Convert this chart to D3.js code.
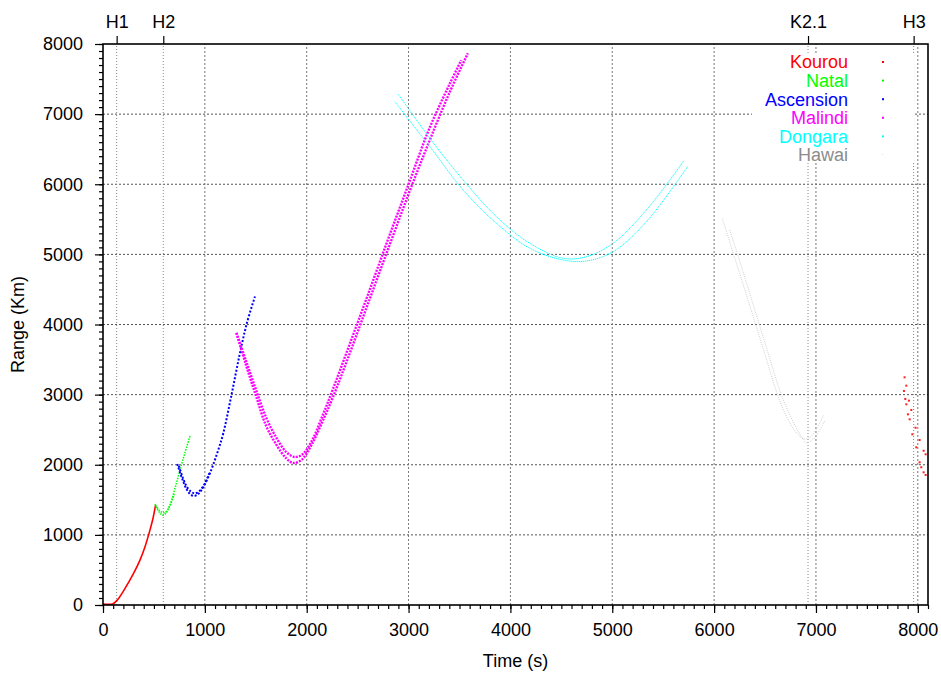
<!DOCTYPE html>
<html>
<head>
<meta charset="utf-8">
<script src="https://cdn.jsdelivr.net/npm/d3@7"></script>
<style>
  body { margin: 0; background: #fff; }
  text { font-family: "Liberation Sans", Arial, sans-serif; }
</style>
</head>
<body>
<div id="chart"></div>
<script>
// [time (s), range (km)]
const kourouRise = [[0,15],[94,15],[140,70],[199,195],[250,320],[300,450],[363,640],[410,820],[461,1068],[490,1230],[516,1423]];
const kourouEndA = [[7870,3247],[7887,3128],[7913,2914],[7936,2781],[7978,2528],[8018,2353],[8057,2200],[8077,2149]];
const kourouEndB = [[7864,3052],[7877,2938],[7887,2862],[7903,2719],[7920,2648],[7946,2434],[7985,2249],[8018,2035],[8034,1964],[8057,1892],[8077,1854]];
const natalA = [[510,1440],[540,1350],[570,1295],[590,1280],[620,1310],[650,1400],[674,1497],[710,1680],[756,1925],[800,2150],[854,2410]];
const natalB = [[516,1423],[550,1355],[580,1322],[605,1318],[635,1355],[665,1440],[700,1580]];
const ascensionA = [[729,2010],[780,1790],[821,1650],[860,1575],[896,1554],[940,1590],[984,1680],[1050,1880],[1120,2160],[1181,2450],[1262,3000],[1340,3560],[1409,4000],[1492,4400]];
const ascensionB = [[745,1985],[790,1790],[830,1670],[870,1610],[905,1592],[950,1630],[995,1720],[1050,1900]];
const malindiA = [[1310,3880],[1400,3440],[1500,2990],[1600,2560],[1700,2290],[1800,2090],[1866,2026],[1950,2070],[2050,2290],[2150,2600],[2258,2965],[2422,3586],[2600,4290],[2800,5080],[3000,5860],[3200,6600],[3400,7300],[3582,7867]];
const malindiB = [[1310,3880],[1400,3500],[1500,3080],[1600,2680],[1700,2390],[1800,2180],[1882,2111],[1960,2150],[2050,2340],[2150,2680],[2258,3080],[2422,3720],[2600,4420],[2800,5220],[3000,6000],[3200,6780],[3400,7420],[3517,7768]];
const dongaraA = [[2898,7287],[3209,6655],[3536,6061],[3863,5537],[4190,5158],[4517,4944],[4746,4967],[5008,5158],[5335,5633],[5702,6332]];
const dongaraB = [[2866,7177],[3209,6536],[3536,5918],[3863,5443],[4190,5087],[4517,4920],[4746,4906],[5008,5038],[5335,5466],[5744,6260]];
const hawaiA = [[6081,5514],[6200,4960],[6300,4500],[6415,3969],[6500,3570],[6611,3050],[6700,2720],[6800,2470],[6880,2370],[6940,2390],[7000,2500],[7076,2709]];
const hawaiB = [[6153,5348],[6250,4910],[6350,4440],[6450,3970],[6550,3500],[6650,3040],[6750,2690],[6850,2420],[6906,2314],[6970,2360],[7030,2480],[7086,2628]];

const stations = ["Kourou", "Natal", "Ascension", "Malindi", "Dongara", "Hawai"];
const stationColors = ["#ff0000", "#00ff00", "#0000ff", "#ff00ff", "#00ffff", "#8c8c8c"];

const xTicks = [0, 1000, 2000, 3000, 4000, 5000, 6000, 7000, 8000];
const yTicks = [0, 1000, 2000, 3000, 4000, 5000, 6000, 7000, 8000];
const eventLabels = ["H1", "H2", "K2.1", "H3"];
const eventTimes = [134, 592, 6922, 7959];

// how each trace is drawn
const traces = [
  { data: kourouRise, color: "#ff0000", width: 1.6, dash: null },
  { data: natalA, color: "#00ff00", width: 1.5, dash: "1.5,1.2" },
  { data: natalB, color: "#00ff00", width: 1.5, dash: "1.5,1.2" },
  { data: ascensionA, color: "#0000ff", width: 2, dash: "2,1.8" },
  { data: ascensionB, color: "#0000ff", width: 2, dash: "2,1.8" },
  { data: malindiA, color: "#ff00ff", width: 2.4, dash: "2,1.2" },
  { data: malindiB, color: "#ff00ff", width: 2.4, dash: "2,1.2" },
  { data: dongaraA, color: "#00ffff", width: 1, dash: "1.2,0.8" },
  { data: dongaraB, color: "#00ffff", width: 1, dash: "1.2,0.8" },
  { data: hawaiA, color: "#cfcfcf", width: 1, dash: "1,1.2" },
  { data: hawaiB, color: "#cfcfcf", width: 1, dash: "1,1.2" }
];
const sparseDots = kourouEndA.concat(kourouEndB);

const width = 941, height = 675;
const margin = { top: 44, right: 13, bottom: 70, left: 103 };

const svg = d3.select('#chart').append('svg')
  .attr('width', width)
  .attr('height', height);

const x = d3.scaleLinear().domain([0, 8100]).range([margin.left, width - margin.right]);
const y = d3.scaleLinear().domain([0, 8000]).range([height - margin.bottom, margin.top]);

// grid
const grid = svg.append('g');
grid.selectAll('.hgrid')
  .data(yTicks.slice(1, -1))
  .join('line')
  .attr('x1', x(0)).attr('x2', x(8100))
  .attr('y1', d => y(d)).attr('y2', d => y(d))
  .attr('stroke', '#555').attr('stroke-width', 1)
  .attr('stroke-dasharray', '2,2');
grid.selectAll('.vgrid')
  .data(xTicks.slice(1))
  .join('line')
  .attr('x1', d => x(d)).attr('x2', d => x(d))
  .attr('y1', y(0)).attr('y2', y(8000))
  .attr('stroke', '#777').attr('stroke-width', 1)
  .attr('stroke-dasharray', '2,2');
grid.selectAll('.egrid')
  .data(eventTimes)
  .join('line')
  .attr('x1', d => x(d)).attr('x2', d => x(d))
  .attr('y1', y(0)).attr('y2', y(8000))
  .attr('stroke', '#888').attr('stroke-width', 1)
  .attr('stroke-dasharray', '1,2');

// data
svg.append('clipPath').attr('id', 'clip')
  .append('rect')
  .attr('x', x(0)).attr('y', y(8000))
  .attr('width', x(8100) - x(0)).attr('height', y(0) - y(8000));

const plot = svg.append('g').attr('clip-path', 'url(#clip)');
const line = d3.line()
  .x(d => x(d[0]))
  .y(d => y(d[1]))
  .curve(d3.curveCatmullRom.alpha(0.5));

traces.forEach(t => {
  plot.append('path')
    .attr('d', line(t.data))
    .attr('fill', 'none')
    .attr('stroke', t.color)
    .attr('stroke-width', t.width)
    .attr('stroke-dasharray', t.dash);
});

plot.selectAll('.kdot')
  .data(sparseDots)
  .join('rect')
  .attr('x', d => x(d[0]) - 1)
  .attr('y', d => y(d[1]) - 1)
  .attr('width', 2).attr('height', 2)
  .attr('fill', '#ff2020');

// legend (opaque key box)
const legend = svg.append('g');
legend.append('rect')
  .attr('x', 752).attr('y', 53)
  .attr('width', 162).attr('height', 110)
  .attr('fill', '#fff');
stations.forEach((s, i) => {
  const ly = 62 + i * 18.6;
  legend.append('text')
    .attr('x', 848).attr('y', ly)
    .attr('dy', '0.35em')
    .attr('text-anchor', 'end')
    .attr('font-size', 18)
    .attr('fill', stationColors[i])
    .text(s);
  legend.append('rect')
    .attr('x', 882).attr('y', ly - 1)
    .attr('width', i == 5 ? 1 : 2).attr('height', i == 5 ? 1 : 2)
    .attr('fill', i == 5 ? '#e0e0e0' : stationColors[i]);
});

// axes
const xAxis = svg.append('g')
  .attr('transform', `translate(0,${y(0)})`)
  .call(d3.axisBottom(x).tickValues(d3.range(0, 8101, 100)).tickSize(4).tickFormat(''));
xAxis.append('g')
  .call(d3.axisBottom(x).tickValues(xTicks).tickSize(8).tickPadding(10).tickFormat(d3.format('d')));

const yAxis = svg.append('g')
  .attr('transform', `translate(${x(0)},0)`)
  .call(d3.axisLeft(y).tickValues(d3.range(0, 8001, 100)).tickSize(4).tickFormat(''));
yAxis.append('g')
  .call(d3.axisLeft(y).tickValues(yTicks).tickSize(8).tickPadding(12).tickFormat(d3.format('d')));

const x2Axis = svg.append('g')
  .attr('transform', `translate(0,${y(8000)})`)
  .call(d3.axisTop(x).tickValues(eventTimes).tickSize(8).tickPadding(8)
    .tickFormat((d, i) => eventLabels[i]));

[xAxis, yAxis, x2Axis].forEach(a => {
  a.selectAll('.domain').remove();
  a.selectAll('line').attr('stroke', '#000').attr('stroke-width', 1.2);
  a.selectAll('text')
    .attr('font-size', 18)
    .attr('fill', '#000')
    .style('font-family', '"Liberation Sans", Arial, sans-serif');
});

// border
svg.append('rect')
  .attr('x', x(0)).attr('y', y(8000))
  .attr('width', x(8100) - x(0)).attr('height', y(0) - y(8000))
  .attr('fill', 'none')
  .attr('stroke', '#000').attr('stroke-width', 1.6);

// titles
svg.append('text')
  .attr('x', (x(0) + x(8100)) / 2)
  .attr('y', 667)
  .attr('text-anchor', 'middle')
  .attr('font-size', 18)
  .text('Time (s)');

svg.append('text')
  .attr('transform', `translate(24,${(y(0) + y(8000)) / 2}) rotate(-90)`)
  .attr('text-anchor', 'middle')
  .attr('font-size', 18)
  .text('Range (Km)');
</script>
</body>
</html>
